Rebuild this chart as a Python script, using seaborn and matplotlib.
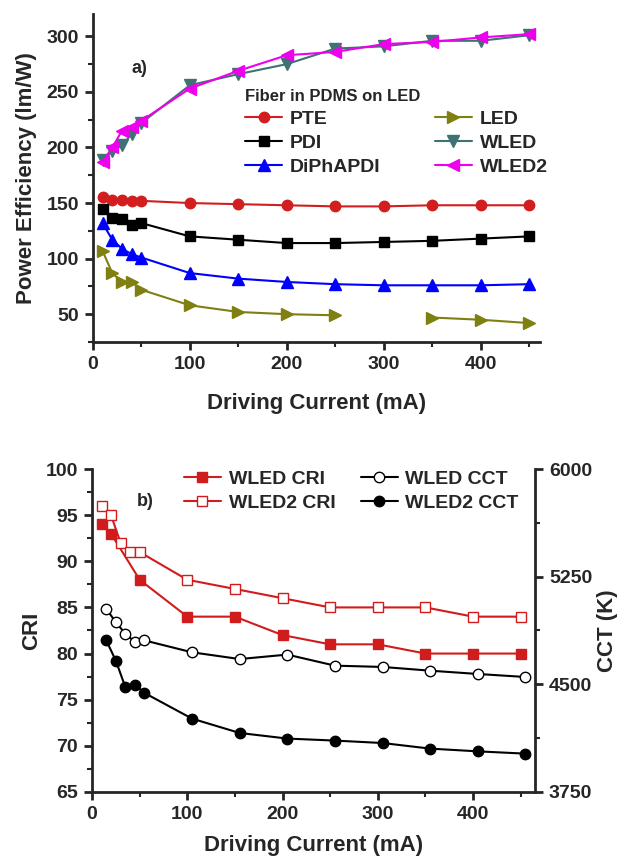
import matplotlib
matplotlib.use('Agg')
import matplotlib.pyplot as plt
from matplotlib.ticker import MultipleLocator
import numpy as np
import seaborn as sns

# a) power efficiency of fiber in PDMS on LED
current = [10, 20, 30, 40, 50, 100, 150, 200, 250, 300, 350, 400, 450]
pte = [155, 153, 153, 152, 152, 150, 149, 148, 147, 147, 148, 148, 148]
pdi = [145, 137, 136, 130, 132, 120, 117, 114, 114, 115, 116, 118, 120]
diphapdi = [132, 117, 109, 104, 101, 87, 82, 79, 77, 76, 76, 76, 77]
led = [107, 87, 79, 79, 72, 58, 52, 50, 49, float('nan'), 47, 45, 42]
wled = [189, 197, 202, 212, 222, 256, 266, 275, 289, 291, 296, 296, 301]
wled2 = [187, 200, 215, 218, 224, 253, 269, 283, 286, 293, 295, 299, 302]

# b) CRI and CCT
cri_current = [10, 20, 50, 100, 150, 200, 250, 300, 350, 400, 450]
wled_cri = [94, 93, 88, 84, 84, 82, 81, 81, 80, 80, 80]
cri2_current = [10, 20, 30, 40, 50, 100, 150, 200, 250, 300, 350, 400, 450]
wled2_cri = [96, 95, 92, 91, 91, 88, 87, 86, 85, 85, 85, 84, 84]
cct_current = [15, 25, 35, 45, 55, 105, 155, 205, 255, 305, 355, 405, 455]
wled_cct = [5027, 4932, 4853, 4795, 4806, 4723, 4676, 4707, 4630, 4621, 4595, 4572, 4551]
wled2_cct = [4806, 4665, 4481, 4498, 4440, 4261, 4161, 4122, 4108, 4091, 4052, 4033, 4017]

sns.set_style('ticks')
plt.rcParams['font.family'] = ['Liberation Sans', 'DejaVu Sans']
plt.rcParams['font.weight'] = 'bold'
plt.rcParams['axes.labelweight'] = 'bold'

fig = plt.figure(figsize=(6.19, 8.56), dpi=100)
ax1 = fig.add_axes([0.150, 0.6005, 0.722, 0.383])
ax2 = fig.add_axes([0.1486, 0.0748, 0.7157, 0.3773])
ax3 = ax2.twinx()


def style_axis(ax, fs):
    for s in ax.spines.values():
        s.set_linewidth(2)
    ax.tick_params(which='major', direction='out', length=6, width=2,
                   labelsize=fs, pad=4)
    ax.tick_params(which='minor', direction='out', length=3.5, width=1.5)


def unique_legend(ax):
    h, l = ax.get_legend_handles_labels()
    seen = {}
    for hh, ll in zip(h, l):
        seen.setdefault(ll, hh)
    return list(seen.values()), list(seen.keys())


# panel a
series_a = [
    (pte, 'PTE', '#d21e1e', 'o', 7.5),
    (pdi, 'PDI', '#000000', 's', 7),
    (diphapdi, 'DiPhAPDI', '#0000ff', '^', 8),
    (led, 'LED', '#7f7f12', '>', 8.5),
    (wled, 'WLED', '#3f7272', 'v', 8.5),
    (wled2, 'WLED2', '#ee00ee', '<', 8.5),
]
for vals, name, col, mk, ms in series_a:
    # missing points split the line into separate pieces
    seg = np.cumsum(np.isnan(np.asarray(vals, dtype=float)))
    sns.lineplot(x=current, y=vals, units=seg, ax=ax1, color=col, marker=mk,
                 markersize=ms, mec=col, mew=1, linewidth=1.5,
                 estimator=None, sort=False, label=name)

ax1.set_xlim(0, 461)
ax1.set_ylim(25, 320)
ax1.xaxis.set_major_locator(MultipleLocator(100))
ax1.xaxis.set_minor_locator(MultipleLocator(50))
ax1.yaxis.set_major_locator(MultipleLocator(50))
ax1.yaxis.set_minor_locator(MultipleLocator(25))
ax1.spines['top'].set_visible(False)
ax1.spines['right'].set_visible(False)
style_axis(ax1, 14)
ax1.set_xlabel('Driving Current (mA)', fontsize=16)
ax1.set_ylabel('Power Efficiency (lm/W)', fontsize=16)
ax1.xaxis.set_label_coords(0.5, -0.155)
ax1.yaxis.set_label_coords(-0.125, 0.5)
ax1.text(0.105, 0.835, 'a)', transform=ax1.transAxes, fontsize=13,
         ha='center', va='center')

h, l = unique_legend(ax1)
ax1.legend(h, l, ncol=2, title='Fiber in PDMS on LED', frameon=False,
           loc='upper left', bbox_to_anchor=(0.396, 0.896),
           bbox_transform=fig.transFigure, fontsize=14, title_fontsize=12,
           alignment='left', borderpad=0, borderaxespad=0,
           labelspacing=0.33, columnspacing=2.8, handlelength=1.9,
           handletextpad=0.4)

# panel b
sns.lineplot(x=cri_current, y=wled_cri, ax=ax2, color='#d01c1c', marker='s',
             markersize=7, mec='#d01c1c', mew=1, linewidth=1.5,
             estimator=None, sort=False, label='WLED CRI')
sns.lineplot(x=cri2_current, y=wled2_cri, ax=ax2, color='#d01c1c', marker='s',
             markersize=7, mfc='white', mec='#d01c1c', mew=1, linewidth=1.5,
             estimator=None, sort=False, label='WLED2 CRI')
sns.lineplot(x=cct_current, y=wled_cct, ax=ax3, color='black', marker='o',
             markersize=7.5, mfc='white', mec='black', mew=1, linewidth=1.5,
             estimator=None, sort=False, label='WLED CCT')
sns.lineplot(x=cct_current, y=wled2_cct, ax=ax3, color='black', marker='o',
             markersize=7.5, mec='black', mew=1, linewidth=1.5,
             estimator=None, sort=False, label='WLED2 CCT')

ax2.set_xlim(0, 465)
ax2.set_ylim(65, 100)
ax3.set_ylim(3750, 6000)
ax2.xaxis.set_major_locator(MultipleLocator(100))
ax2.xaxis.set_minor_locator(MultipleLocator(50))
ax2.yaxis.set_major_locator(MultipleLocator(5))
ax2.yaxis.set_minor_locator(MultipleLocator(2.5))
ax3.yaxis.set_major_locator(MultipleLocator(750))
ax3.yaxis.set_minor_locator(MultipleLocator(375))
ax2.spines['top'].set_visible(False)
ax2.spines['right'].set_visible(False)
ax3.spines['top'].set_visible(False)
ax3.spines['left'].set_visible(False)
ax3.spines['bottom'].set_visible(False)
style_axis(ax2, 14)
style_axis(ax3, 14)
ax2.set_xlabel('Driving Current (mA)', fontsize=16)
ax2.set_ylabel('CRI', fontsize=16)
ax3.set_ylabel('CCT (K)', fontsize=16)
ax2.xaxis.set_label_coords(0.5, -0.133)
ax2.yaxis.set_label_coords(-0.113, 0.5)
ax3.yaxis.set_label_coords(1.14, 0.5)
ax2.text(0.12, 0.898, 'b)', transform=ax2.transAxes, fontsize=13,
         ha='center', va='center')

h2, l2 = ax2.get_legend_handles_labels()
h3, l3 = ax3.get_legend_handles_labels()
if ax2.get_legend() is not None:
    ax2.get_legend().remove()
ax3.legend(h2 + h3, l2 + l3, ncol=2, frameon=False, loc='upper left',
           bbox_to_anchor=(0.297, 0.451), bbox_transform=fig.transFigure,
           fontsize=14, borderpad=0, borderaxespad=0, labelspacing=0.33,
           columnspacing=1.3, handlelength=1.9, handletextpad=0.4)

fig.savefig('out.png', dpi=100)
